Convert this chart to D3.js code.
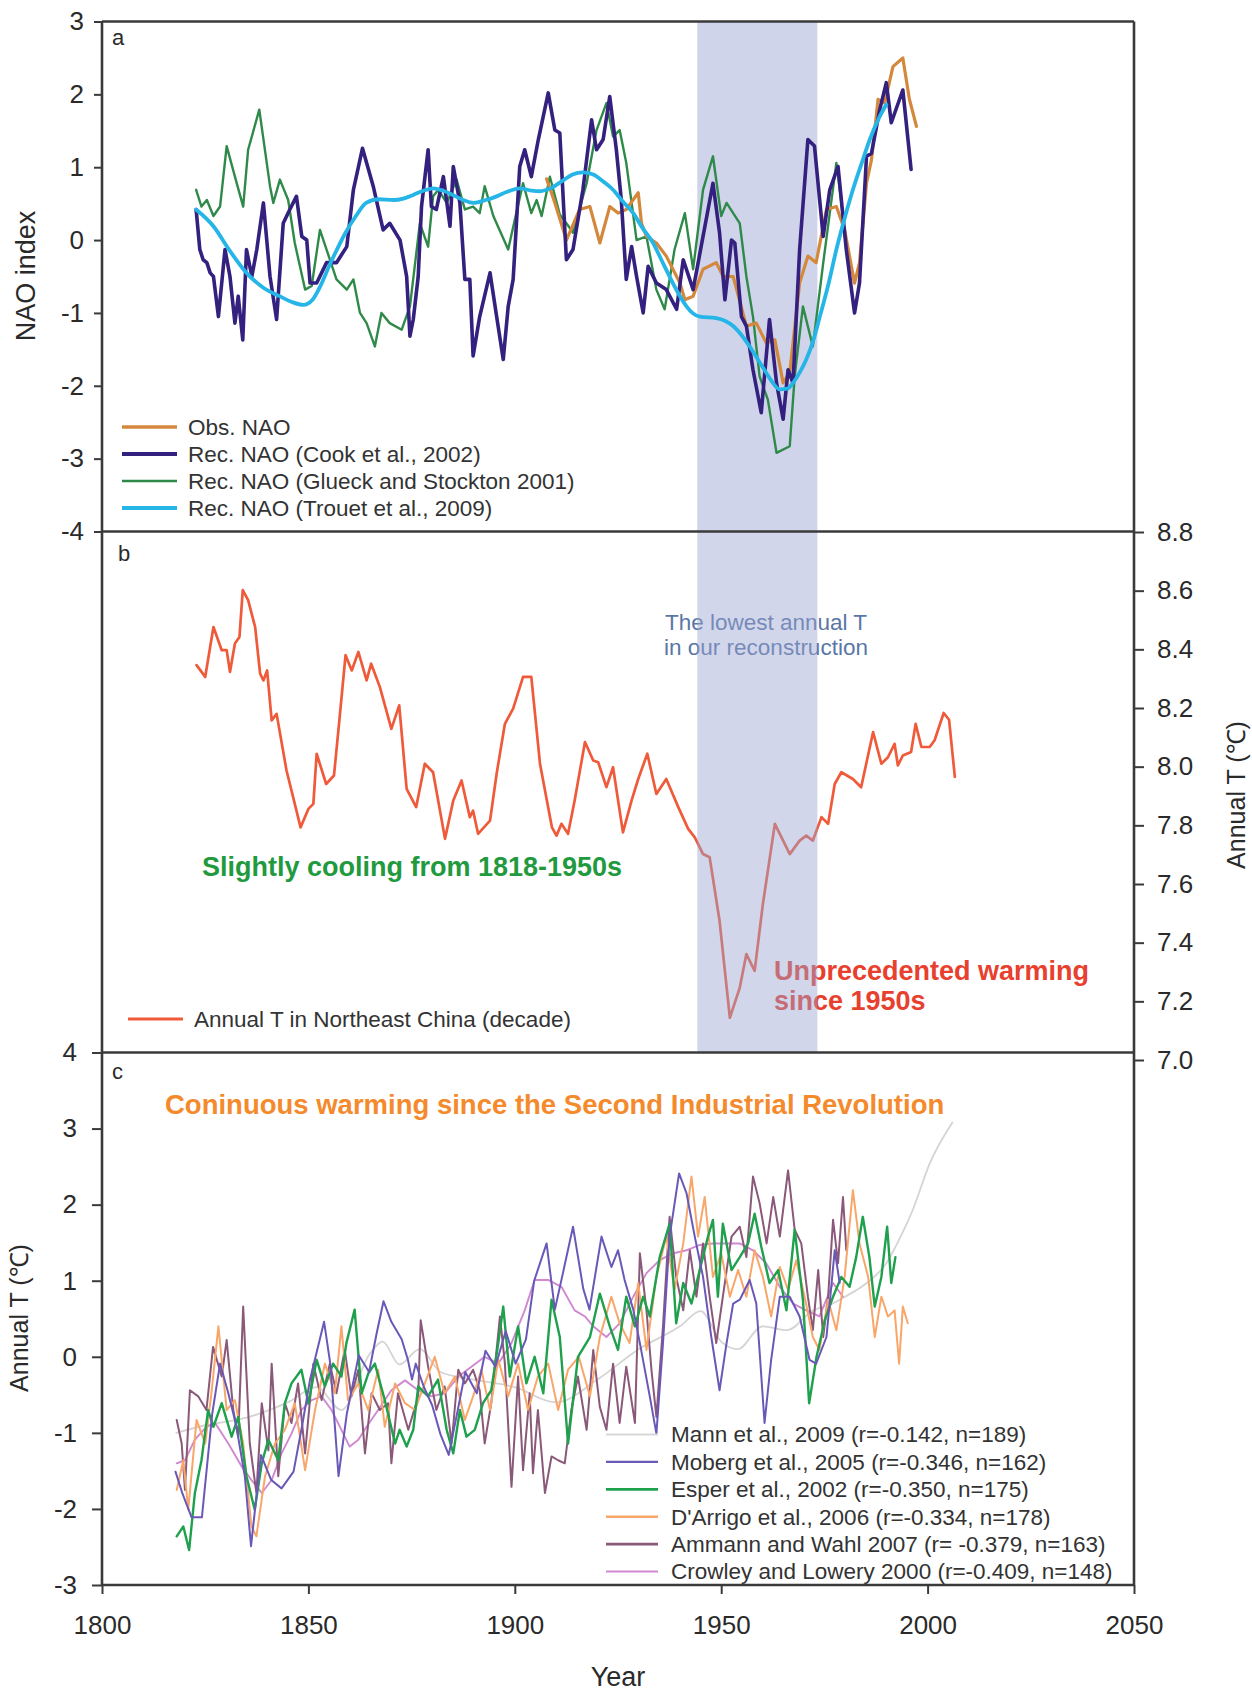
<!DOCTYPE html>
<html>
<head>
<meta charset="utf-8">
<script src="https://cdn.jsdelivr.net/npm/d3@7"></script>
<style>
  html, body { margin: 0; padding: 0; background: #fff; }
  svg { display: block; font-family: "Liberation Sans", Arial, sans-serif; }
</style>
</head>
<body>
<svg id="chart" width="1252" height="1691"></svg>
<script>
// ---- data ----
const xTicks = [1800, 1850, 1900, 1950, 2000, 2050];
const naoTicks = [3, 2, 1, 0, -1, -2, -3, -4];
const tempTicks = [7.0, 7.2, 7.4, 7.6, 7.8, 8.0, 8.2, 8.4, 8.6, 8.8];
const annTicks = [4, 3, 2, 1, 0, -1, -2, -3];
const coldBand = [1944.2, 1973.3];

const obsNAO = [[1907.7,0.84],[1909.6,0.53],[1912.5,0.0],[1915.7,0.42],[1918.2,0.46],[1920.6,-0.04],[1923,0.46],[1925,0.37],[1927,0.42],[1929.9,0.65],[1930.7,0.23],[1931.9,0.05],[1934.3,-0.04],[1936.7,-0.22],[1940,-0.59],[1941.2,-0.82],[1943.2,-0.77],[1945.6,-0.4],[1948.8,-0.31],[1950.5,-0.5],[1952.9,-0.5],[1956.1,-1.18],[1958.5,-1.14],[1960.9,-1.41],[1963,-1.37],[1965,-1.96],[1966.6,-1.82],[1969,-0.59],[1971,-0.22],[1973,-0.31],[1975.5,0.42],[1977.9,0.46],[1979.9,0.14],[1982.3,-0.59],[1983.5,-0.31],[1985.2,0.78],[1986.4,1.1],[1988,1.93],[1989.6,1.88],[1991.6,2.38],[1994,2.5],[1995.6,1.93],[1997.3,1.56]];

const cookNAO = [[1822.8,0.42],[1823.7,-0.13],[1824.5,-0.27],[1825.4,-0.31],[1826.2,-0.45],[1827,-0.5],[1828.2,-1.05],[1829.8,-0.13],[1831,-0.5],[1832.2,-1.14],[1833,-0.77],[1834.1,-1.37],[1835,-0.13],[1836.3,-0.5],[1837.5,-0.13],[1839.1,0.51],[1840.7,-0.5],[1842.3,-1.09],[1843.9,0.23],[1845.5,0.42],[1847.1,0.6],[1848.4,0.05],[1849.6,0.0],[1850.4,-0.59],[1852,-0.59],[1854.4,-0.31],[1856.8,-0.31],[1859.3,-0.09],[1860.9,0.69],[1863.1,1.26],[1865.7,0.74],[1868.1,0.14],[1869.7,0.23],[1872.2,0.0],[1873.8,-0.5],[1874.6,-1.32],[1875.4,-1.09],[1876.6,-0.5],[1877.4,0.46],[1879,1.24],[1879.8,0.46],[1881,0.42],[1882.7,0.87],[1884.3,0.19],[1885.1,1.01],[1886.7,0.51],[1887.9,-0.54],[1889.1,-0.54],[1889.9,-1.59],[1891.5,-1.05],[1894,-0.45],[1895.6,-1.05],[1897.2,-1.64],[1898.4,-0.91],[1899.6,-0.54],[1901.2,1.01],[1902.4,1.24],[1904,0.87],[1905.7,1.38],[1908.1,2.02],[1909.7,1.51],[1910.9,1.47],[1912.5,-0.27],[1914.1,-0.13],[1916.5,0.69],[1918.6,1.65],[1919.8,1.24],[1921.4,1.38],[1923,1.97],[1924.6,1.24],[1925.8,0.55],[1927,-0.54],[1928.3,-0.09],[1929.5,-0.5],[1931.1,-1.0],[1932.3,-0.36],[1934.3,-0.59],[1936.7,-0.68],[1939.2,-0.95],[1940.8,-0.27],[1943.2,-0.68],[1945.6,0.05],[1948,0.78],[1949.6,0.1],[1950.9,-0.82],[1952.5,0.0],[1953.3,-0.04],[1954.9,-1.05],[1956.1,-1.18],[1957.7,-1.78],[1959.7,-2.37],[1961.7,-1.09],[1963.4,-1.96],[1965,-2.46],[1966.2,-1.78],[1967.4,-1.96],[1969,-0.13],[1971,1.38],[1972.6,1.29],[1974.7,0.05],[1976.3,0.69],[1978.3,1.01],[1980.3,-0.13],[1982.3,-1.0],[1983.5,-0.59],[1985.2,1.15],[1986.4,1.19],[1988.4,1.79],[1990,2.16],[1991.2,1.61],[1994,2.06],[1996,0.97]];

const glueckNAO = [[1822.8,0.69],[1824.1,0.46],[1825.4,0.55],[1827,0.33],[1828.6,0.46],[1830.2,1.29],[1832.2,0.87],[1834.2,0.46],[1835.4,1.24],[1838.1,1.79],[1840.7,0.74],[1841.5,0.51],[1843.1,0.83],[1845.1,0.55],[1846.7,-0.04],[1849.2,-0.68],[1850.8,-0.63],[1852.8,0.14],[1854.4,-0.13],[1856.8,-0.54],[1859.3,-0.68],[1860.9,-0.54],[1862.5,-1.0],[1864.1,-1.14],[1866.1,-1.46],[1867.7,-1.0],[1869.7,-1.14],[1872.6,-1.23],[1874.6,-0.91],[1877,0.23],[1879,-0.09],[1880.2,0.6],[1881.5,0.69],[1883.5,0.51],[1885.9,0.83],[1887.9,0.42],[1889.9,0.46],[1891.5,0.37],[1892.7,0.74],[1894.8,0.33],[1898.4,-0.13],[1900,0.28],[1902,0.78],[1904,0.37],[1905.3,0.55],[1906.5,0.33],[1908.5,0.87],[1910.9,0.35],[1912.9,0.2],[1914.1,0.1],[1917.4,0.78],[1919.8,1.51],[1922.2,1.88],[1923.8,1.42],[1925.4,1.51],[1927,1.06],[1929.5,0.0],[1931.9,0.05],[1934.3,-0.68],[1936.3,-0.95],[1938.7,-0.13],[1941.2,0.37],[1943.2,-0.4],[1945.6,0.69],[1948,1.15],[1950,0.33],[1951.3,0.51],[1954.5,0.23],[1956.1,-0.5],[1957.7,-1.05],[1959.3,-1.87],[1961.3,-2.19],[1963.4,-2.92],[1966.6,-2.83],[1967.8,-1.87],[1969.8,-0.91],[1972.2,-1.46],[1974.7,-0.32],[1977.9,1.06],[1979.5,0.33]];

const trouetNAO = [[1822.8,0.42],[1827,0.19],[1831,-0.15],[1835,-0.45],[1839,-0.65],[1843,-0.77],[1846,-0.85],[1848.8,-0.89],[1851,-0.82],[1853,-0.62],[1855,-0.36],[1857,-0.12],[1859,0.1],[1861.5,0.33],[1864,0.51],[1867,0.56],[1870.6,0.55],[1873,0.57],[1875.4,0.62],[1878,0.68],[1880.2,0.71],[1882.5,0.68],[1885,0.62],[1887.5,0.55],[1890,0.51],[1893,0.55],[1895.6,0.6],[1898,0.66],[1901.2,0.71],[1904,0.68],[1906,0.67],[1909,0.72],[1911.7,0.82],[1914,0.9],[1916.5,0.93],[1919,0.9],[1921.5,0.8],[1923.8,0.69],[1926,0.54],[1928.7,0.37],[1931,0.16],[1933.5,-0.04],[1935.5,-0.27],[1937.5,-0.5],[1939.5,-0.72],[1941.6,-0.91],[1943,-1.0],[1944.8,-1.05],[1948.8,-1.07],[1951,-1.11],[1952.9,-1.18],[1955,-1.31],[1956.9,-1.46],[1959,-1.65],[1960.9,-1.82],[1962.5,-1.96],[1964.2,-2.05],[1966,-2.04],[1967.4,-1.96],[1969,-1.82],[1970.6,-1.64],[1972.3,-1.38],[1973.9,-1.05],[1976,-0.6],[1977.9,-0.13],[1980,0.32],[1981.9,0.69],[1984,1.05],[1986,1.38],[1988,1.65],[1990,1.86]];

const neChinaT = [[1822.9,8.346],[1825,8.306],[1827,8.476],[1829,8.397],[1830.2,8.397],[1831,8.323],[1832.2,8.42],[1833.3,8.442],[1834.1,8.602],[1835.4,8.568],[1837.1,8.476],[1838.3,8.317],[1839.1,8.294],[1840,8.328],[1841.1,8.158],[1842.3,8.18],[1844.7,7.987],[1846.3,7.896],[1848.1,7.793],[1850,7.856],[1851.2,7.873],[1852,8.044],[1854.3,7.941],[1856.2,7.97],[1857.5,8.158],[1859,8.38],[1860.5,8.328],[1862.1,8.391],[1864.1,8.294],[1865.2,8.351],[1867.3,8.272],[1870.1,8.129],[1872,8.209],[1873.8,7.924],[1876.1,7.862],[1878.2,8.01],[1880.2,7.981],[1883.1,7.754],[1885.1,7.885],[1887.1,7.953],[1889.1,7.828],[1889.9,7.85],[1891.1,7.771],[1894,7.816],[1895.6,7.976],[1897.6,8.146],[1899.6,8.198],[1902,8.306],[1904,8.306],[1906.1,8.01],[1909,7.793],[1910.1,7.765],[1911.3,7.805],[1912.9,7.771],[1914.5,7.885],[1917,8.084],[1919,8.021],[1920.2,8.015],[1922.2,7.93],[1923.8,7.998],[1926.2,7.776],[1928.3,7.885],[1929.9,7.958],[1932.1,8.044],[1934.3,7.907],[1936.7,7.958],[1939.6,7.862],[1942,7.788],[1943.6,7.759],[1945.6,7.702],[1947.2,7.691],[1949.6,7.475],[1952.1,7.144],[1954.5,7.247],[1956.1,7.361],[1958.1,7.304],[1960.1,7.532],[1963,7.805],[1965,7.748],[1966.6,7.702],[1969,7.748],[1970.6,7.765],[1972.2,7.748],[1974.3,7.828],[1975.9,7.805],[1977.5,7.941],[1979.1,7.981],[1981.9,7.958],[1983.9,7.93],[1986.8,8.118],[1988.8,8.01],[1990.4,8.032],[1992,8.078],[1992.8,8.004],[1994,8.038],[1996,8.05],[1997.1,8.146],[1998.5,8.067],[2000.5,8.067],[2001.7,8.09],[2002.5,8.124],[2003.9,8.183],[2005.2,8.16],[2006.6,7.965]];

const mann = [[1818,-1.0],[1825,-0.9],[1835,-0.8],[1845,-0.6],[1852,-0.4],[1858,-0.7],[1865,0.05],[1868,0.2],[1872,-0.1],[1877,0.1],[1882,-0.2],[1890,-0.3],[1900,-0.4],[1910,-0.6],[1920,-0.3],[1930,0.1],[1940,0.4],[1945,0.6],[1950,0.2],[1954,0.1],[1960,0.4],[1966,0.35],[1972,0.6],[1977,0.7],[1980,0.79],[1985,0.96],[1990,1.23],[1993,1.53],[1996.4,1.93],[2000.5,2.54],[2006,3.08]];

const moberg = [[1817.8,-1.51],[1819.5,-1.8],[1821.7,-2.11],[1824.2,-2.11],[1826.7,-0.75],[1828.6,-0.09],[1830.6,-0.48],[1832.5,-0.9],[1834.6,-1.57],[1836.1,-2.49],[1838.5,-1.29],[1841,-1.62],[1843.5,-1.73],[1846.4,-1.51],[1848.5,-0.9],[1850.4,-0.3],[1853.8,0.46],[1855.3,-0.09],[1857.3,-1.57],[1859.3,-0.75],[1862.2,0.02],[1864.7,-0.2],[1866.5,0.3],[1868.2,0.73],[1870.1,0.46],[1872.6,0.23],[1874.1,-0.04],[1875.1,-0.3],[1876,-0.09],[1878,-0.4],[1880,-0.64],[1882,-1.02],[1884,-1.29],[1886,-0.75],[1888,-0.2],[1890.8,-0.48],[1892.9,0.08],[1895.3,-0.13],[1897.8,0.34],[1900.2,-0.09],[1902.7,0.23],[1904.7,1.0],[1907.7,1.49],[1909.7,0.62],[1911.7,1.11],[1914.1,1.71],[1916.6,0.89],[1918.1,0.62],[1921,1.58],[1923.4,1.18],[1925,1.4],[1926.6,1.01],[1928.7,0.62],[1930.3,0.18],[1932.7,-0.52],[1934.3,-1.01],[1935.9,0.18],[1937.5,1.58],[1939.8,2.41],[1941.6,2.15],[1943.6,1.58],[1945.6,1.05],[1947.6,0.26],[1949.6,-0.44],[1951.3,0.18],[1952.9,0.7],[1954.5,0.75],[1956.9,1.01],[1958.5,0.7],[1960.5,-0.87],[1962.1,-0.04],[1964.2,0.79],[1966.6,0.79],[1969,0.53],[1971.4,-0.04],[1973,-0.09],[1975.5,0.26],[1977.5,1.4],[1978.7,0.97]];

const esper = [[1818.1,-2.36],[1819.7,-2.23],[1821.1,-2.54],[1822.5,-1.79],[1824.1,-1.36],[1825.7,-0.7],[1827,-0.92],[1829,-0.61],[1831.4,-1.05],[1833,-0.79],[1835,-1.57],[1837,-2.01],[1838.7,-1.4],[1840.3,-1.09],[1842.7,-1.36],[1844.3,-0.61],[1845.9,-0.35],[1848.3,-0.17],[1850,-0.61],[1852,-0.04],[1854,-0.39],[1856,-0.09],[1858,-0.26],[1859.2,0.18],[1861.2,0.62],[1862.9,-0.48],[1864.5,-0.22],[1866.1,-0.09],[1868.5,-0.57],[1871,-1.14],[1872.1,-0.96],[1873.8,-1.18],[1875.4,-0.96],[1876.6,-0.39],[1879,-0.52],[1881.4,-0.3],[1883.5,-0.96],[1885.1,-1.27],[1886.7,-0.7],[1888.3,-1.05],[1890.3,-0.96],[1892.3,-0.61],[1894.3,-0.44],[1896,0.18],[1897.2,0.66],[1898.8,-0.26],[1900.8,0.4],[1902.8,-0.35],[1904.8,0.0],[1906.9,-0.48],[1908.9,0.75],[1910.9,0.26],[1912.9,-1.14],[1915.3,0.0],[1918.2,0.26],[1920.6,0.83],[1923,0.4],[1925,0.09],[1927,0.79],[1929.1,0.4],[1931.1,0.79],[1932.7,0.53],[1935.1,1.31],[1937.5,1.75],[1939.1,0.44],[1940.8,0.97],[1942.8,0.7],[1944.8,1.14],[1946.8,1.58],[1948,1.8],[1949.2,0.79],[1950.4,1.75],[1952.5,1.14],[1954.5,1.31],[1956.5,1.49],[1958.1,1.88],[1959.7,1.45],[1961.7,0.97],[1963.8,1.14],[1965.8,0.61],[1967.8,1.67],[1969.8,0.75],[1971.3,-0.61],[1973.1,0.0],[1975.1,0.48],[1977.1,0.79],[1979.1,1.05],[1981.1,0.92],[1982.7,1.31],[1984.3,1.84],[1985.9,1.31],[1987.2,0.66],[1988.8,1.05],[1990.2,1.71],[1991.2,0.97],[1992.2,1.31]];

const darrigo = [[1818.1,-1.75],[1819.7,-1.36],[1820.9,-2.01],[1822.9,-0.83],[1825,-1.14],[1826.5,-0.48],[1828.2,0.4],[1830.2,-0.7],[1832.2,-0.57],[1834.2,-1.14],[1836.2,-2.23],[1837.4,-2.36],[1839.5,-1.57],[1841.9,-1.14],[1844.3,-0.96],[1846.7,-0.61],[1849.2,-1.49],[1851.6,-0.7],[1854,-0.09],[1856.4,-0.48],[1858,0.4],[1859.6,-0.57],[1862.1,-0.35],[1864.5,-0.7],[1866.9,-0.17],[1868.5,-0.92],[1871,-0.35],[1873.4,-0.61],[1875.8,-0.7],[1878.2,-0.35],[1880.6,0.0],[1883,-0.48],[1885.5,-0.26],[1887.9,-0.83],[1889.9,-0.52],[1891.9,-0.17],[1894,-0.7],[1896,-0.04],[1898.4,-0.52],[1900.8,-0.09],[1903.2,-0.7],[1905.6,-0.26],[1908.1,-0.09],[1910.5,-0.7],[1912.9,-0.17],[1915.5,0.0],[1918.2,-0.52],[1920.6,0.26],[1923.4,0.79],[1925.4,0.44],[1927.8,0.18],[1929.9,0.97],[1931.9,0.09],[1934.3,1.05],[1936.7,1.58],[1938.7,0.88],[1940.8,1.49],[1942.8,2.37],[1944.4,1.58],[1946,2.1],[1948,1.05],[1950,1.36],[1952.1,0.79],[1954.1,1.14],[1956.1,0.79],[1958.1,1.4],[1960.1,1.05],[1962.1,0.53],[1964.2,1.18],[1966.2,0.88],[1968.2,1.27],[1970.2,0.79],[1972.2,0.26],[1973.8,0.09],[1975.9,0.75],[1977.9,0.35],[1979.9,1.05],[1981.9,2.19],[1983.5,1.49],[1985.6,1.05],[1987.2,0.26],[1988.8,0.79],[1990.4,0.53],[1992,0.61],[1993.1,-0.09],[1994,0.66],[1995.2,0.44]];

const ammann = [[1818.1,-0.83],[1819.3,-1.14],[1820.1,-1.75],[1821.3,-0.44],[1823.3,-0.52],[1825.3,-0.7],[1826.9,0.13],[1829,-0.26],[1830.2,0.22],[1831.8,-0.7],[1833,-1.05],[1834.2,0.66],[1835.8,-1.14],[1837.4,-1.79],[1838.7,-0.61],[1840.3,-1.23],[1841.1,-0.09],[1842.7,-1.57],[1844.3,-0.61],[1845.9,-0.87],[1847.5,-0.35],[1849.2,-1.27],[1851.2,-0.09],[1853.2,-0.57],[1855.2,-0.09],[1856.8,-0.48],[1858.8,0.09],[1860.4,-0.52],[1862.1,-0.17],[1863.7,-1.27],[1865.3,-0.48],[1867.3,-0.7],[1869.3,-0.61],[1870.1,-1.4],[1871.7,-0.48],[1874.2,-0.96],[1876.6,-0.52],[1877.2,0.48],[1879,-0.13],[1881,-0.7],[1883,-0.39],[1884.7,-1.14],[1886.3,-0.17],[1887.9,-0.35],[1889.9,-0.17],[1891.5,-0.44],[1892.7,-1.14],[1894.3,-0.61],[1896.4,0.53],[1897.6,-0.09],[1899.2,-1.71],[1900.8,-0.26],[1902,-1.49],[1903.6,-0.48],[1904.4,-1.53],[1905.6,-0.7],[1907.3,-1.79],[1908.9,-1.31],[1910.5,-1.36],[1912.1,-1.4],[1913.7,-0.7],[1915.3,-0.26],[1917.4,-0.96],[1919,0.09],[1920.6,-0.66],[1922.2,-0.96],[1923.8,-0.09],[1925.4,-0.87],[1927,-0.13],[1929.1,-0.87],[1930.3,1.36],[1931.9,0.61],[1933.1,-0.17],[1934.3,-0.79],[1935.9,0.4],[1937.5,1.84],[1939.1,1.05],[1940.8,0.61],[1942.4,1.4],[1944,0.79],[1945.6,1.49],[1947.2,0.79],[1948.8,0.18],[1950.4,0.79],[1952.5,1.58],[1954.5,1.71],[1956.1,1.31],[1957.7,2.37],[1959.3,2.02],[1961,1.49],[1962.6,2.1],[1964.2,1.58],[1966.2,2.45],[1967.8,1.67],[1969.4,1.49],[1971,0.79],[1972.2,0.35],[1973.5,1.14],[1974.7,0.26],[1975.9,0.79],[1977.1,1.8],[1978.3,1.23],[1979.5,2.1],[1980.3,1.4]];

const crowley = [[1818.1,-1.4],[1820.1,-1.36],[1822.5,-1.09],[1825.3,-0.92],[1827.4,-0.87],[1830.6,-1.14],[1833.8,-1.44],[1836.2,-1.62],[1838.7,-1.79],[1841.1,-1.62],[1843.5,-1.27],[1845.9,-1.01],[1848.3,-0.7],[1850.8,-0.57],[1853.2,-0.52],[1855.6,-0.7],[1858,-0.96],[1860,-1.18],[1862.1,-1.09],[1864.1,-0.92],[1866.9,-0.7],[1870.1,-0.44],[1873.4,-0.31],[1876.6,-0.44],[1879.8,-0.52],[1883,-0.48],[1886.3,-0.26],[1889.5,-0.13],[1892.7,0.0],[1896,-0.09],[1899.2,0.18],[1902.4,0.61],[1904.8,1.01],[1908.1,1.01],[1911.3,0.92],[1914.5,0.61],[1917,0.53],[1919,0.4],[1922.2,0.26],[1925.4,0.44],[1928.7,0.79],[1931.9,1.1],[1935.1,1.27],[1938.3,1.36],[1941.6,1.4],[1944.8,1.47],[1948,1.49],[1951.3,1.49],[1954.5,1.49],[1957.7,1.4],[1960.9,1.23],[1964.2,0.92],[1967.4,0.7],[1970.6,0.61],[1973.8,0.53],[1977.1,0.97],[1979.5,0.79]];

const navy = '#34207e', cyan = '#25b5e6', brown = '#d4883c', pine = '#2f8a4a';
const tred = '#ef5a3a';
const font = '"Liberation Sans", Arial, sans-serif';

const svg = d3.select('#chart');

const x  = d3.scaleLinear().domain([1800, 2050]).range([102, 1134]);
const yA = d3.scaleLinear().domain([-4, 3]).range([531.5, 21.5]);
const yB = d3.scaleLinear().domain([7.0, 8.8]).range([1060, 532]);
const yC = d3.scaleLinear().domain([-3, 4]).range([1585, 1052.5]);

const lineA = d3.line().x(d => x(d[0])).y(d => yA(d[1]));
const lineB = d3.line().x(d => x(d[0])).y(d => yB(d[1]));
const lineC = d3.line().x(d => x(d[0])).y(d => yC(d[1]));

function path(data, gen, color, w) {
  return svg.append('path').datum(data).attr('d', gen)
    .attr('fill', 'none').attr('stroke', color).attr('stroke-width', w)
    .attr('stroke-linejoin', 'round').attr('stroke-linecap', 'round');
}

// panel a: band behind lines
svg.append('rect')
  .attr('x', x(coldBand[0])).attr('width', x(coldBand[1]) - x(coldBand[0]))
  .attr('y', yA(3)).attr('height', yA(-4) - yA(3))
  .attr('fill', '#d0d4ea');

path(glueckNAO, lineA, pine, 2.4);
path(obsNAO, lineA, brown, 3.2);
path(cookNAO, lineA, navy, 3.6);
path(trouetNAO, lineA.curve(d3.curveMonotoneX), cyan, 3.8);

// panel b
path(neChinaT, lineB, tred, 2.7);

const txt = (t, px, py, size, color, weight, anchor) => svg.append('text')
  .attr('x', px).attr('y', py).text(t)
  .style('font-size', size + 'px').style('fill', color)
  .style('font-weight', weight || 'normal')
  .attr('text-anchor', anchor || 'start');

txt('Slightly cooling from 1818-1950s', 202, 876, 27, '#1f9a3e', 'bold');
txt('The lowest annual T', 766, 630, 22.5, '#5a76a6', 'normal', 'middle');
txt('in our reconstruction', 766, 655, 22.5, '#5a76a6', 'normal', 'middle');
txt('Unprecedented warming', 774, 980, 27, '#e8402e', 'bold');
txt('since 1950s', 774, 1010, 27, '#e8402e', 'bold');

// panel b: band drawn over the line
svg.append('rect')
  .attr('x', x(coldBand[0])).attr('width', x(coldBand[1]) - x(coldBand[0]))
  .attr('y', yA(-4)).attr('height', 1052.5 - yA(-4))
  .attr('fill', '#9aa3d0').attr('opacity', 0.45);

// panel c
path(mann, lineC.curve(d3.curveMonotoneX), '#d4d4d4', 1.8);
lineC.curve(d3.curveLinear);
path(crowley, lineC, '#d088d0', 1.9);
path(ammann, lineC, '#8a5878', 2);
path(darrigo, lineC, '#f9a66a', 2);
path(esper, lineC, '#1ea04c', 2.4);
path(moberg, lineC, '#6a58b8', 2);

txt('Coninuous warming since the Second Industrial Revolution', 165, 1114, 27.5, '#f58a2c', 'bold');

// frame
const frame = svg.append('g').attr('stroke', '#3a3a3a').attr('stroke-width', 2.6);
[yA(3), yA(-4), 1052.5, yC(-3)].forEach(yy =>
  frame.append('line').attr('x1', x(1800)).attr('x2', x(2050)).attr('y1', yy).attr('y2', yy));
frame.append('line').attr('x1', x(1800)).attr('x2', x(1800)).attr('y1', yA(3)).attr('y2', yC(-3));
frame.append('line').attr('x1', x(2050)).attr('x2', x(2050)).attr('y1', yA(3)).attr('y2', yC(-3));

function styleAxis(a) {
  a.select('.domain').remove();
  a.selectAll('line').attr('stroke', '#3a3a3a').attr('stroke-width', 2);
  a.selectAll('text').style('font-size', '26px').style('fill', '#2a2a2a').style('font-family', font);
}
const plain = d => String(d);

svg.append('g').attr('transform', `translate(${x(1800)},0)`)
  .call(d3.axisLeft(yA).tickValues(naoTicks).tickSize(8).tickPadding(10).tickFormat(plain))
  .call(styleAxis);
svg.append('g').attr('transform', `translate(${x(1800)},0)`)
  .call(d3.axisLeft(yC).tickValues(annTicks).tickSize(10).tickPadding(15).tickFormat(plain))
  .call(styleAxis);
svg.append('g').attr('transform', `translate(${x(2050)},0)`)
  .call(d3.axisRight(yB).tickValues(tempTicks).tickSize(10).tickPadding(13).tickFormat(d3.format('.1f')))
  .call(styleAxis);
svg.append('g').attr('transform', `translate(0,${yC(-3)})`)
  .call(d3.axisBottom(x).tickValues(xTicks).tickSize(9).tickPadding(22).tickFormat(plain))
  .call(styleAxis);

// axis titles and panel letters
const rot = (t, px, py, size) => svg.append('text')
  .attr('transform', `translate(${px},${py}) rotate(-90)`)
  .attr('text-anchor', 'middle').attr('dy', '0.35em').text(t)
  .style('font-size', size + 'px').style('fill', '#2a2a2a');
rot('NAO index', 26, 276, 27);
rot('Annual T (\u2103)', 1236, 795, 25);
rot('Annual T (\u2103)', 19, 1318, 25);
txt('Year', 618, 1686, 27, '#2a2a2a', 'normal', 'middle');

txt('a', 112, 45, 22, '#2a2a2a');
txt('b', 118, 561, 22, '#2a2a2a');
txt('c', 112, 1079, 22, '#2a2a2a');

// legends
const legA = [
  { name: 'Obs. NAO', color: brown, w: 3.6 },
  { name: 'Rec. NAO (Cook et al., 2002)', color: navy, w: 3.8 },
  { name: 'Rec. NAO (Glueck and Stockton 2001)', color: pine, w: 2.6 },
  { name: 'Rec. NAO (Trouet et al., 2009)', color: cyan, w: 4 },
];
const legC = [
  { name: 'Mann et al., 2009 (r=-0.142, n=189)', color: '#d8d8d8', w: 2 },
  { name: 'Moberg et al., 2005 (r=-0.346, n=162)', color: '#6a58b8', w: 2.4 },
  { name: 'Esper et al., 2002 (r=-0.350, n=175)', color: '#1ea04c', w: 2.8 },
  { name: "D'Arrigo et al., 2006 (r=-0.334, n=178)", color: '#f9a66a', w: 2.4 },
  { name: 'Ammann and Wahl 2007 (r= -0.379, n=163)', color: '#8a5878', w: 2.6 },
  { name: 'Crowley and Lowery 2000 (r=-0.409, n=148)', color: '#d088d0', w: 2.2 },
];
function legend(items, lx0, lx1, tx, y0, step, size) {
  items.forEach((d, i) => {
    const yy = y0 + i * step;
    svg.append('line').attr('x1', lx0).attr('x2', lx1).attr('y1', yy).attr('y2', yy)
      .attr('stroke', d.color).attr('stroke-width', d.w);
    svg.append('text').attr('x', tx).attr('y', yy).attr('dy', '0.35em').text(d.name)
      .style('font-size', size + 'px').style('fill', '#333');
  });
}
legend(legA, 122, 177, 188, 427, 27, 22.5);
legend([{ name: 'Annual T in Northeast China (decade)', color: tred, w: 2.8 }], 128, 183, 194, 1019, 27, 22.5);
legend(legC, 606, 658, 671, 1434.5, 27.4, 22.5);
</script>
</body>
</html>
